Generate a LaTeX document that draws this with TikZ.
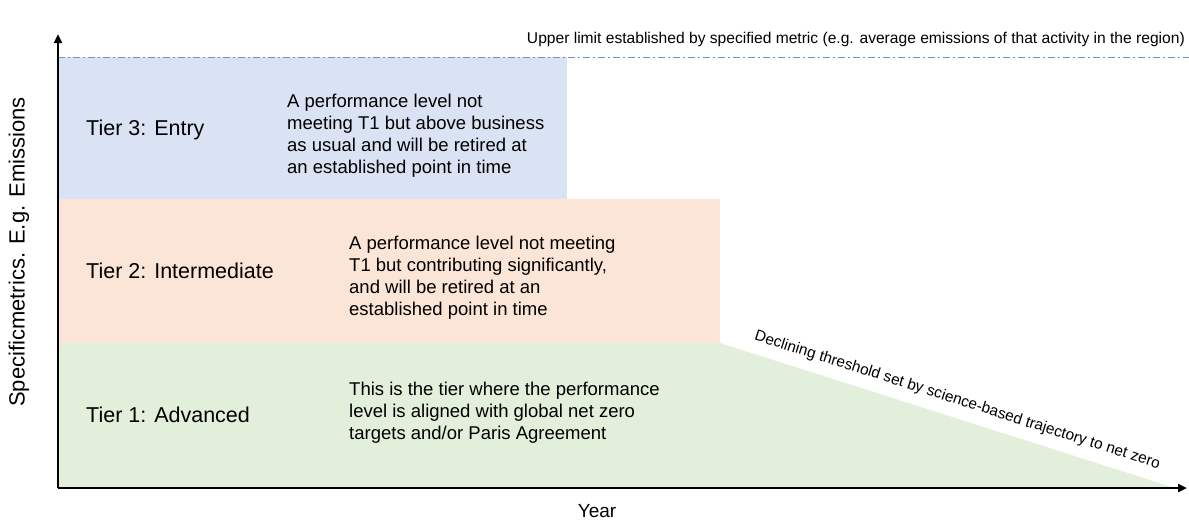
\documentclass[tikz,border=0pt]{standalone}
\usepackage{fontspec}
\setmainfont{Liberation Sans}
\usetikzlibrary{positioning,arrows.meta}

\definecolor{entryblue}{HTML}{DAE3F3}
\definecolor{midpeach}{HTML}{FBE5D6}
\definecolor{advgreen}{HTML}{E2EFDA}
\definecolor{limitblue}{HTML}{6A92DA}

\tikzset{
	tiername/.style={anchor=west, inner sep=0pt, font=\fontsize{21.5}{25}\selectfont},
	tierdesc/.style={anchor=west, inner sep=0pt, align=left, font=\fontsize{18.5}{22}\selectfont},
	axis/.style={line width=2.8pt, -{Triangle[length=9pt,width=8pt]}}
}

\begin{document}
\begin{tikzpicture}[x=1pt,y=-1pt]
	\useasboundingbox (0,0) rectangle (1189,523);
	\coordinate (o) at (58,488);
	\coordinate (ytip) at (58,34);
	\coordinate (xtip) at (1187,488);
	\coordinate (t1r) at (720,343);
	\coordinate (zero) at (1175,488);

	% tier bands
	\fill[entryblue] (58,57) rectangle (567,199);
	\fill[midpeach] (58,199) rectangle (720,343);
	\fill[advgreen] (58,343) -- (t1r) -- (zero) -- (o) -- cycle;

	% upper limit
	\coordinate (lim0) at (58,57);
	\coordinate (lim1) at (1189,57);
	\draw[limitblue, line width=1pt, dash pattern=on 7pt off 3pt on 2pt off 3pt] (lim0) -- (lim1);
	\node[anchor=south east, inner sep=0pt, font=\fontsize{15.6}{18}\selectfont] (limtxt) at (1185,47)
		{Upper limit established by specified metric (e.g. average emissions of that activity in the region)};

	% tier 3
	\node[tiername] (t3) at (86,130) {Tier 3: Entry};
	\node[tierdesc] (t3d) at (287,136) {A performance level not\\meeting T1 but above business\\as usual and will be retired at\\an established point in time};

	% tier 2
	\node[tiername] (t2) at (86,271) {Tier 2: Intermediate};
	\node[tierdesc] (t2d) at (349,278) {A performance level not meeting\\T1 but contributing significantly,\\and will be retired at an\\established point in time};

	% tier 1
	\node[tiername] (t1) at (86,415) {Tier 1: Advanced};
	\node[tierdesc] (t1d) at (349,413) {This is the tier where the performance\\level is aligned with global net zero\\targets and/or Paris Agreement};

	% declining threshold
	\path (t1r) -- (zero) node[pos=0.51, sloped, above=10pt, inner sep=0pt, font=\fontsize{15.4}{18}\selectfont] (decl)
		{Declining threshold set by science-based trajectory to net zero};

	% axes
	\draw[axis] (o) -- (ytip);
	\draw[axis] (o) -- (xtip);
	\node[rotate=90, inner sep=0pt, font=\fontsize{22}{26}\selectfont] (ylab) at (19,252) {Specificmetrics. E.g. Emissions};
	\node[inner sep=0pt, font=\fontsize{19}{22}\selectfont] (xlab) at (597,511) {Year};
\end{tikzpicture}
\end{document}
